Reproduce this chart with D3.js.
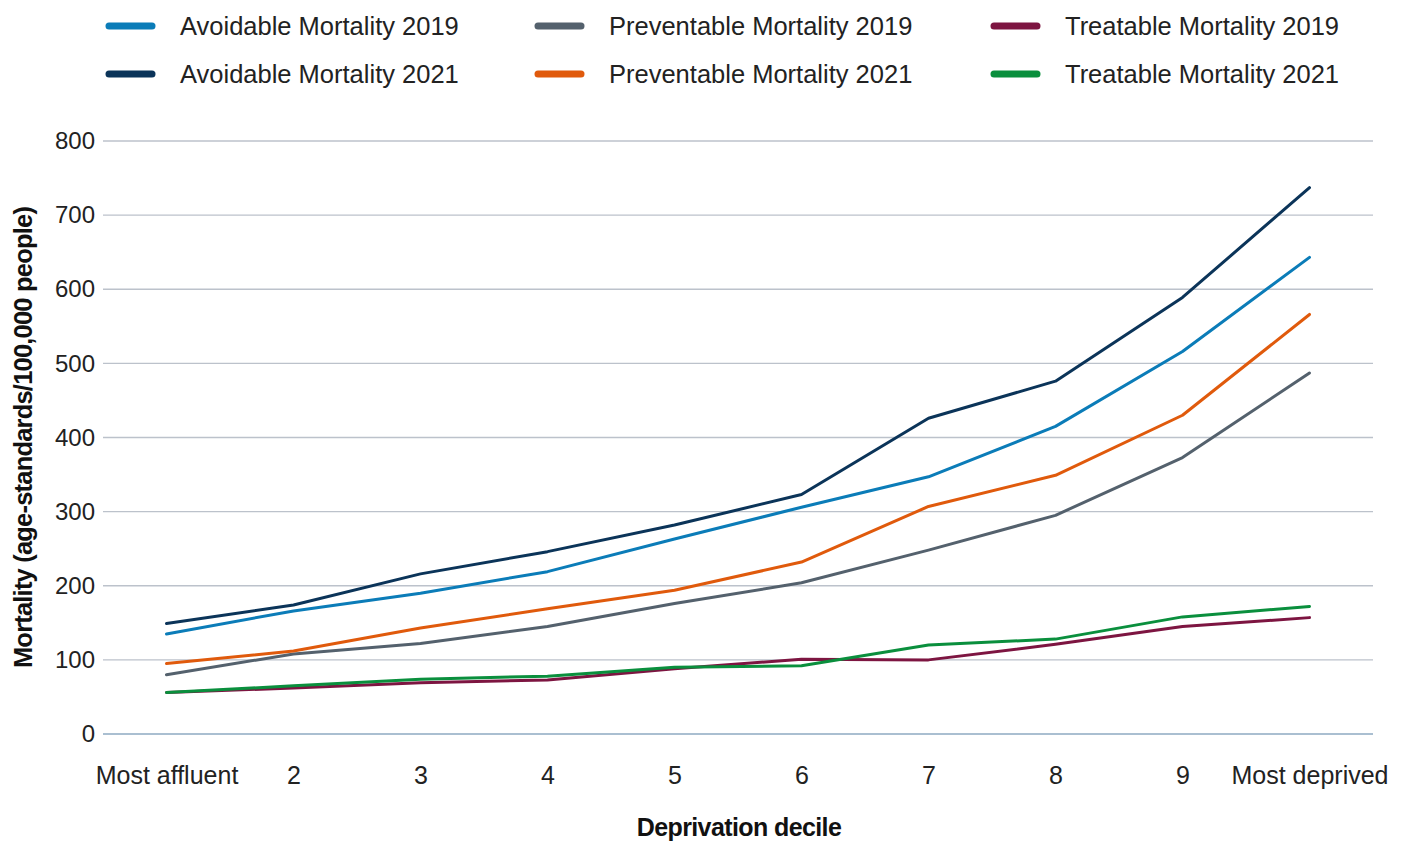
<!DOCTYPE html>
<html>
<head>
<meta charset="utf-8">
<script src="https://cdn.jsdelivr.net/npm/d3@7"></script>
<style>
  html, body { margin: 0; padding: 0; background: #fff; }
  svg { display: block; font-family: "Liberation Sans", Arial, sans-serif; }
</style>
</head>
<body>
<svg id="chart" width="1408" height="841"></svg>
<script>
const categories = ["Most affluent", "2", "3", "4", "5", "6", "7", "8", "9", "Most deprived"];
const yTicks = [0, 100, 200, 300, 400, 500, 600, 700, 800];

const avoidable2019   = [135, 166, 190, 219, 263, 306, 347, 415, 516, 643];
const avoidable2021   = [149, 174, 216, 246, 282, 323, 426, 476, 589, 737];
const preventable2019 = [80, 108, 122, 145, 176, 204, 248, 295, 373, 487];
const preventable2021 = [95, 112, 143, 169, 194, 232, 307, 349, 430, 566];
const treatable2019   = [56, 62, 69, 73, 88, 101, 100, 121, 145, 157];
const treatable2021   = [56, 65, 74, 78, 90, 92, 120, 128, 158, 172];

const seriesNames = ["Avoidable Mortality 2019", "Avoidable Mortality 2021",
  "Preventable Mortality 2019", "Preventable Mortality 2021",
  "Treatable Mortality 2019", "Treatable Mortality 2021"];
const seriesColors = ["#0b7cb8", "#0b3459", "#54616d", "#e05a0c", "#7d1541", "#0a8f3d"];
const seriesValues = [avoidable2019, avoidable2021, preventable2019, preventable2021, treatable2019, treatable2021];

const svg = d3.select("#chart");
const plotLeft = 103, plotRight = 1373, plotTop = 141, plotBottom = 734;

const x = d3.scalePoint().domain(categories).range([plotLeft, plotRight]).padding(0.5);
const y = d3.scaleLinear().domain([0, 800]).range([plotBottom, plotTop]);

// gridlines
const grid = svg.append("g");
grid.selectAll("line").data(yTicks).join("line")
  .attr("x1", plotLeft).attr("x2", plotRight)
  .attr("y1", d => y(d)).attr("y2", d => y(d))
  .attr("stroke", d => d === 0 ? "#8eaac2" : "#bcc2cb")
  .attr("stroke-width", 1.3);

// y axis labels
const yAxis = svg.append("g").attr("transform", `translate(${plotLeft},0)`)
  .call(d3.axisLeft(y).tickValues(yTicks).tickSize(0).tickPadding(8));
yAxis.select(".domain").remove();
yAxis.selectAll("text").attr("font-size", 24).attr("fill", "#222").attr("font-family", "Liberation Sans, Arial, sans-serif");

// x axis labels
const xAxis = svg.append("g").attr("transform", `translate(0,${plotBottom})`)
  .call(d3.axisBottom(x).tickSize(0).tickPadding(32));
xAxis.select(".domain").remove();
xAxis.selectAll("text").attr("font-size", 25).attr("fill", "#222").attr("font-family", "Liberation Sans, Arial, sans-serif");

// axis titles
svg.append("text").attr("x", 739).attr("y", 836).attr("text-anchor", "middle")
  .attr("font-size", 25).attr("font-weight", "bold").attr("fill", "#111")
  .attr("letter-spacing", -0.6)
  .text("Deprivation decile");
svg.append("text").attr("transform", `translate(32,${(plotTop + plotBottom) / 2}) rotate(-90)`)
  .attr("text-anchor", "middle")
  .attr("font-size", 25.5).attr("font-weight", "bold").attr("fill", "#111")
  .attr("letter-spacing", -0.8)
  .text("Mortality (age-standards/100,000 people)");

// lines
const line = d3.line().x((d, i) => x(categories[i])).y(d => y(d));
svg.append("g").selectAll("path").data(seriesValues).join("path")
  .attr("d", d => line(d))
  .attr("fill", "none")
  .attr("stroke", (d, i) => seriesColors[i])
  .attr("stroke-width", 3)
  .attr("stroke-linejoin", "round")
  .attr("stroke-linecap", "round");

// legend
const legendCols = [106, 535, 991];
const legendRows = [26, 74];
const legendOrder = [[0, 1], [2, 3], [4, 5]];
const lg = svg.append("g");
legendOrder.forEach((pair, c) => {
  pair.forEach((si, r) => {
    const gx = legendCols[c], gy = legendRows[r];
    lg.append("line").attr("x1", gx + 3).attr("x2", gx + 46)
      .attr("y1", gy).attr("y2", gy)
      .attr("stroke", seriesColors[si]).attr("stroke-width", 7).attr("stroke-linecap", "round");
    lg.append("text").attr("x", gx + 74).attr("y", gy + 9)
      .attr("font-size", 25.5).attr("fill", "#222")
      .text(seriesNames[si]);
  });
});
</script>
</body>
</html>
